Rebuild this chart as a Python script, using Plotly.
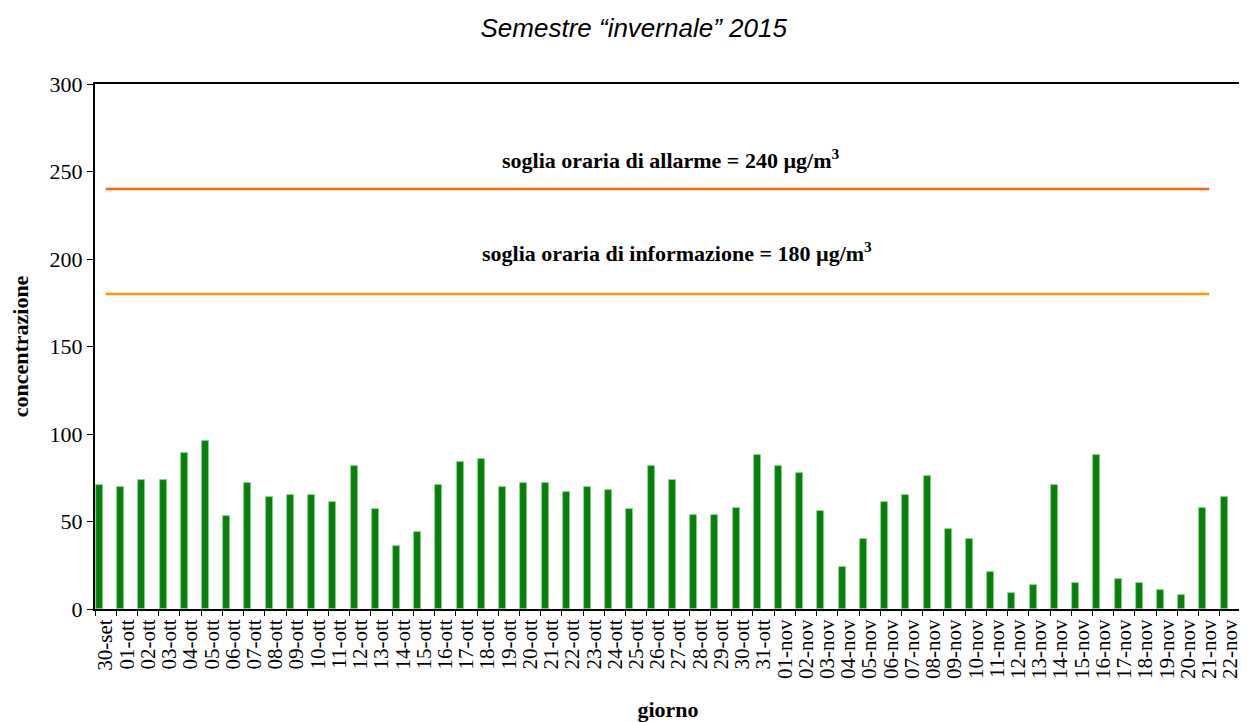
import plotly.graph_objects as go

# categorie (giorni)
giorni = ["30-set"] + ["%02d-ott" % d for d in range(1, 32)] + ["%02d-nov" % d for d in range(1, 23)]

# concentrazione (µg/m3)
concentrazione = [
    71, 70, 74, 74, 89, 96, 53, 72, 64, 65, 65,            # 30-set .. 10-ott
    61, 82, 57, 36, 44, 71, 84, 86, 70, 72, 72,            # 11-ott .. 21-ott
    67, 70, 68, 57, 82, 74, 54, 54, 58, 88,                # 22-ott .. 31-ott
    82, 78, 56, 24, 40, 61, 65, 76, 46, 40, 21,            # 01-nov .. 11-nov
    9, 14, 71, 15, 88, 17, 15, 11, 8, 58, 64,              # 12-nov .. 22-nov
]

# soglie orarie
soglia_allarme = 240
soglia_informazione = 180
giorni_soglia = giorni[:-1]

fig = go.Figure()

fig.add_trace(go.Bar(
    x=giorni,
    y=concentrazione,
    width=0.33,
    offset=-0.46,
    marker=dict(color="#07800a", line=dict(color="#8fd08f", width=0.8)),
    showlegend=False,
))

fig.add_trace(go.Scatter(
    x=giorni_soglia,
    y=[soglia_allarme] * len(giorni_soglia),
    mode="lines",
    line=dict(color="#ff6600", width=2.5),
    showlegend=False,
))
fig.add_trace(go.Scatter(
    x=giorni_soglia,
    y=[soglia_informazione] * len(giorni_soglia),
    mode="lines",
    line=dict(color="#ff9900", width=2.5),
    showlegend=False,
))

serif = "Liberation Serif, Times New Roman, serif"

fig.add_annotation(
    x=0.503, xref="paper", y=257, yref="y",
    text="<b>soglia oraria di allarme = 240 µg/m<sup>3</sup></b>",
    showarrow=False, font=dict(family=serif, size=22, color="black"),
)
fig.add_annotation(
    x=0.508, xref="paper", y=204, yref="y",
    text="<b>soglia oraria di informazione = 180 µg/m<sup>3</sup></b>",
    showarrow=False, font=dict(family=serif, size=22, color="black"),
)

fig.update_layout(
    width=1239,
    height=714,
    plot_bgcolor="white",
    paper_bgcolor="white",
    margin=dict(l=87, r=6, t=76, b=113),
    title=dict(
        text="<i>Semestre “invernale” 2015</i>",
        x=0.505, xanchor="center", y=0.972, yanchor="middle",
        font=dict(family="Liberation Sans, Arial, sans-serif", size=26, color="black"),
    ),
    bargap=0,
    xaxis=dict(
        type="category",
        range=[-0.5, len(giorni) - 0.5],
        automargin=False,
        tickmode="array",
        tickvals=giorni,
        ticktext=giorni,
        tickangle=-90,
        tickson="boundaries",
        ticks="outside",
        ticklen=5,
        tickcolor="black",
        showline=True,
        linecolor="black",
        linewidth=2,
        mirror=True,
        showgrid=False,
        tickfont=dict(family=serif, size=21, color="black"),
        title=dict(text="<b>giorno</b>", font=dict(family=serif, size=22, color="black"), standoff=26),
    ),
    yaxis=dict(
        range=[0, 300],
        automargin=False,
        tickvals=[0, 50, 100, 150, 200, 250, 300],
        ticks="outside",
        ticklen=6,
        tickcolor="black",
        showline=True,
        linecolor="black",
        linewidth=2,
        mirror=True,
        showgrid=False,
        zeroline=False,
        tickfont=dict(family=serif, size=22, color="black"),
        title=dict(text="<b>concentrazione</b>", font=dict(family=serif, size=22, color="black"), standoff=26),
    ),
)

fig.write_html("out.html")
